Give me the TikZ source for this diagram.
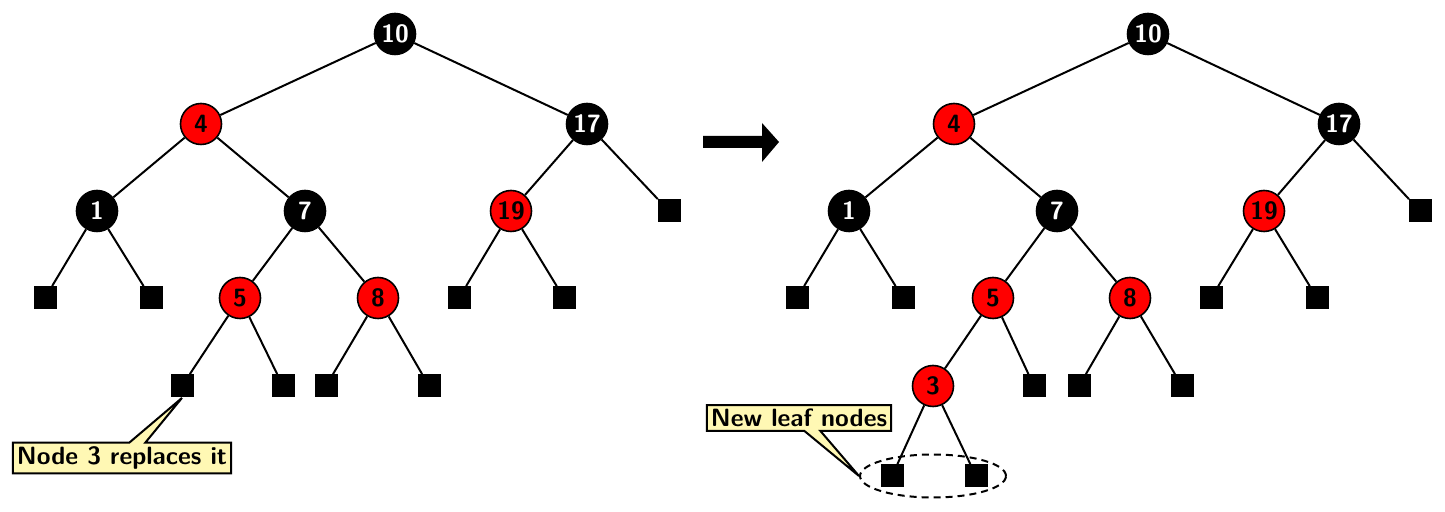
\documentclass[tikz,border=0pt]{standalone}
\usetikzlibrary{shapes.geometric,shapes.callouts}
\definecolor{calloutfill}{RGB}{255,248,180}
\begin{document}
\begin{tikzpicture}[x=0.5pt,y=-0.5pt,
  every node/.style={font=\sffamily\bfseries\fontsize{12.5}{14}\selectfont},
  rnode/.style={circle,draw=black,line width=0.8pt,fill=red,text=black,minimum size=20.5pt,inner sep=0pt},
  bnode/.style={circle,draw=black,line width=0.8pt,fill=black,text=white,minimum size=20.5pt,inner sep=0pt},
  leafnode/.style={rectangle,fill=black,minimum size=11.5pt,inner sep=0pt},
  edge/.style={line width=1pt},
  note/.style={rectangle callout,draw=black,line width=1pt,fill=calloutfill,callout pointer width=8pt,inner xsep=2pt,inner ysep=2pt}]
\useasboundingbox (0,0) rectangle (1445,512);
% left tree
\node[bnode] (a10) at (395,34) {10};
\node[rnode] (a4) at (201,124) {4};
\node[bnode] (a17) at (587,124) {17};
\node[bnode] (a1) at (97,211) {1};
\node[bnode] (a7) at (305,211) {7};
\node[rnode] (a19) at (511,211) {19};
\node[leafnode] (al17) at (669,211) {};
\node[leafnode] (al1a) at (45,298) {};
\node[leafnode] (al1b) at (151,298) {};
\node[rnode] (a5) at (240,298) {5};
\node[rnode] (a8) at (378,298) {8};
\node[leafnode] (al19a) at (459,298) {};
\node[leafnode] (al19b) at (564,298) {};
\node[leafnode] (al5a) at (182,386) {};
\node[leafnode] (al5b) at (283,386) {};
\node[leafnode] (al8a) at (326,386) {};
\node[leafnode] (al8b) at (429,386) {};
\draw[edge] (a10)--(a4) (a10)--(a17) (a4)--(a1) (a4)--(a7) (a17)--(a19) (a17)--(al17)
  (a1)--(al1a) (a1)--(al1b) (a7)--(a5) (a7)--(a8) (a19)--(al19a) (a19)--(al19b)
  (a5)--(al5a) (a5)--(al5b) (a8)--(al8a) (a8)--(al8b);
\node[note,callout absolute pointer=(al5a.south)] (c1) at (122,458) {Node 3 replaces it};
% arrow
\fill (703,136) -- (762,136) -- (762,123) -- (779,142) -- (762,162) -- (762,148) -- (703,148) -- cycle;
% right tree
\node[bnode] (b10) at (1148,34) {10};
\node[rnode] (b4) at (954,124) {4};
\node[bnode] (b17) at (1339,124) {17};
\node[bnode] (b1) at (849,211) {1};
\node[bnode] (b7) at (1057,211) {7};
\node[rnode] (b19) at (1264,211) {19};
\node[leafnode] (bl17) at (1420,211) {};
\node[leafnode] (bl1a) at (797,298) {};
\node[leafnode] (bl1b) at (903,298) {};
\node[rnode] (b5) at (993,298) {5};
\node[rnode] (b8) at (1130,298) {8};
\node[leafnode] (bl19a) at (1211,298) {};
\node[leafnode] (bl19b) at (1317,298) {};
\node[rnode] (b3) at (933,386) {3};
\node[leafnode] (bl5b) at (1034,386) {};
\node[leafnode] (bl8a) at (1079,386) {};
\node[leafnode] (bl8b) at (1182,386) {};
\node[leafnode] (bl3a) at (892,476) {};
\node[leafnode] (bl3b) at (976,476) {};
\draw[edge] (b10)--(b4) (b10)--(b17) (b4)--(b1) (b4)--(b7) (b17)--(b19) (b17)--(bl17)
  (b1)--(bl1a) (b1)--(bl1b) (b7)--(b5) (b7)--(b8) (b19)--(bl19a) (b19)--(bl19b)
  (b5)--(b3) (b5)--(bl5b) (b8)--(bl8a) (b8)--(bl8b) (b3)--(bl3a) (b3)--(bl3b);
\node[ellipse,draw=black,dash pattern=on 3.5pt off 2.5pt,line width=1pt,minimum width=73pt,minimum height=21.5pt,inner sep=0pt] (ell) at (933,476) {};
\node[note,callout absolute pointer=(ell.west)] (c2) at (799,418) {New leaf nodes};
\end{tikzpicture}
\end{document}
